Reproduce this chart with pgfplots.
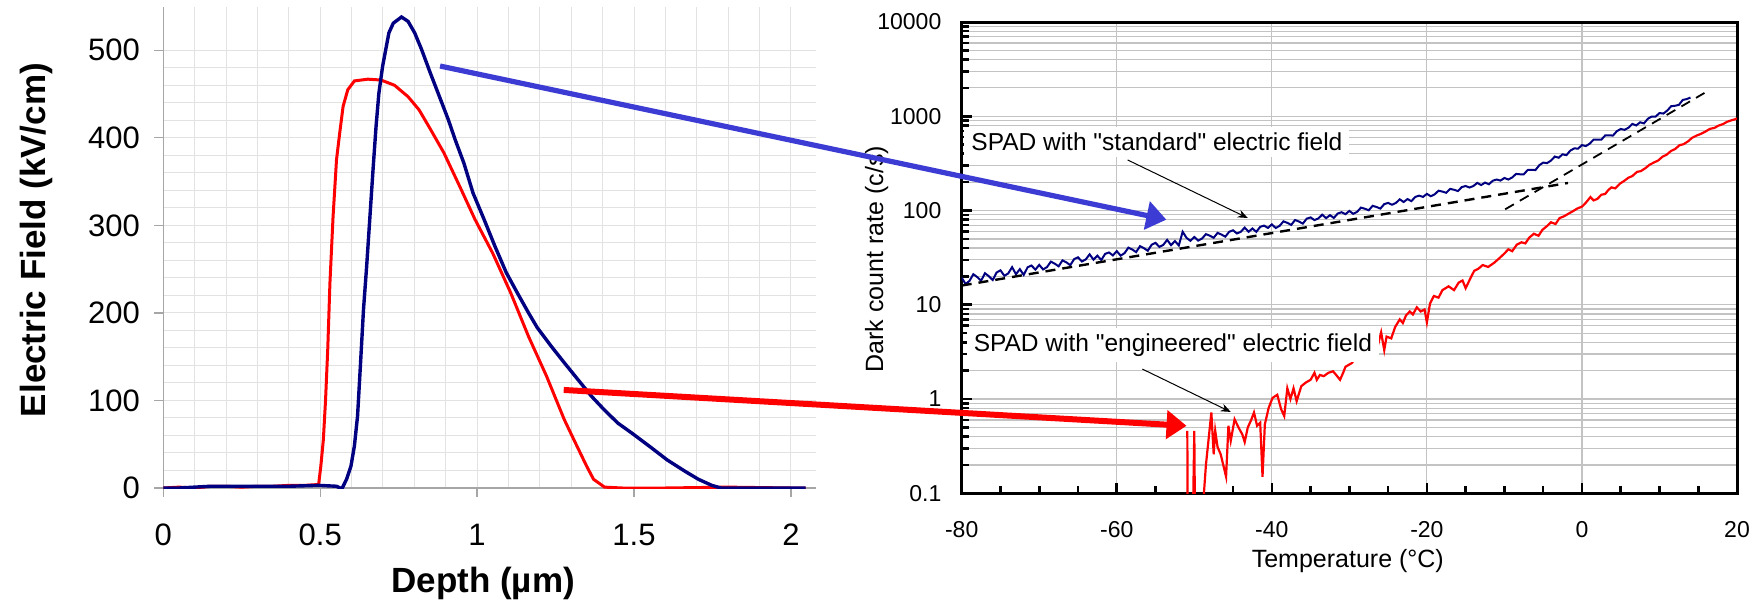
\documentclass[border=0pt]{standalone}
\usepackage{pgfplots}
\pgfplotsset{compat=1.18}
\usepackage{fontspec}
\setmainfont{Liberation Sans}
\newfontfamily\plainfont{Liberation Sans}[Ligatures=TeXOff]
\usetikzlibrary{arrows.meta}
\definecolor{navy}{RGB}{0,0,128}
\definecolor{arrowblue}{RGB}{60,60,212}
\definecolor{lgrid}{RGB}{226,226,226}
\definecolor{rgrid}{RGB}{195,195,195}
\begin{document}
\begin{tikzpicture}
\useasboundingbox (0,0) rectangle (878.5pt,306pt);
% ---------------- left: electric field profile ----------------
\begin{axis}[
  at={(81.65pt,62pt)}, anchor=south west,
  scale only axis, width=326.35pt, height=240.75pt,
  xmin=0, xmax=2.08, ymin=0, ymax=550,
  axis lines*=left,
  axis line style={-, draw=gray!70, line width=0.6pt},
  xtick={0,0.5,1,1.5,2}, xticklabels={0,0.5,1,1.5,2},
  ytick={0,100,200,300,400,500}, yticklabels={0,100,200,300,400,500},
  minor x tick num=4, minor y tick num=4,
  grid=both,
  major grid style={draw=lgrid, line width=0.5pt},
  minor grid style={draw=lgrid, line width=0.5pt},
  tick align=outside, major tick length=4.5pt, minor tick length=0pt,
  every tick/.style={draw=gray!70, line width=0.6pt},
  /pgf/number format/assume math mode=true,
  tick label style={font=\fontsize{15.5}{18}\selectfont},
  xticklabel style={anchor=center, inner sep=0pt, yshift=-19pt},
  yticklabel style={anchor=east, inner sep=0pt, xshift=-7pt},
  xlabel={Depth (µm)}, ylabel={Electric Field (kV/cm)},
  label style={font=\bfseries\fontsize{17.5}{20}\selectfont},
  xlabel style={at={(axis description cs:0.49,0)}, anchor=base, yshift=-52pt},
  ylabel style={at={(axis description cs:-0.1812,0.515)}, anchor=base},
  no markers,
]
\addplot[red, line width=1.5pt] coordinates {
(0,0) (0.05,1) (0.1,0) (0.15,2) (0.2,2) (0.25,1) (0.3,2) (0.35,2) (0.4,3) (0.45,3)
(0.495,4) (0.502,25) (0.510,55) (0.517,100) (0.524,158) (0.531,234) (0.541,310)
(0.552,375) (0.562,405) (0.573,436) (0.588,455) (0.609,465) (0.652,467) (0.694,466)
(0.737,460) (0.780,447) (0.815,432) (0.851,410) (0.894,383) (0.944,345) (0.993,307)
(1.050,268) (1.107,223) (1.164,173) (1.221,128) (1.278,78) (1.314,51) (1.349,25)
(1.371,10) (1.406,1) (1.463,0) (1.6,0) (1.8,1) (2.0,0) (2.047,0)};
\addplot[navy, line width=1.7pt] coordinates {
(0,0) (0.05,0) (0.1,1) (0.15,2) (0.2,2) (0.3,2) (0.4,2) (0.495,3) (0.552,2) (0.569,-1)
(0.584,10) (0.598,25) (0.609,48) (0.619,82) (0.628,139) (0.638,204) (0.648,253)
(0.655,291) (0.662,329) (0.669,367) (0.678,413) (0.687,451) (0.699,482) (0.709,501)
(0.719,520) (0.733,531) (0.759,538) (0.780,533) (0.801,520) (0.823,501) (0.851,474)
(0.879,448) (0.908,421) (0.930,398) (0.958,371) (0.987,337) (1.022,307) (1.057,276)
(1.093,246) (1.128,223) (1.164,200) (1.192,183) (1.236,162) (1.278,143) (1.321,124)
(1.364,105) (1.406,89) (1.449,74) (1.492,63) (1.548,48) (1.606,32) (1.663,19)
(1.705,10) (1.748,3) (1.777,0) (1.9,0) (2.047,0)};
\coordinate (bs) at (axis cs:0.882,482);
\coordinate (rs) at (axis cs:1.276,112);
\end{axis}
% ---------------- right: dark count rate ----------------
\begin{axis}[
  at={(480.85pt,59.35pt)}, anchor=south west,
  scale only axis, width=387.65pt, height=235.65pt,
  xmin=-80, xmax=20, ymode=log, ymin=0.1, ymax=10000,
  xtick={-80,-60,-40,-20,0,20}, xticklabels={-80,-60,-40,-20,0,20},
  minor x tick num=3,
  ytick={0.1,1,10,100,1000,10000}, yticklabels={0.1,1,10,100,1000,10000},
  minor ytick={0.2,0.3,0.4,0.5,0.6,0.7,0.8,0.9,2,3,4,5,6,7,8,9,20,30,40,50,60,70,80,90,200,300,400,500,600,700,800,900,2000,3000,4000,5000,6000,7000,8000,9000},
  xmajorgrids, ymajorgrids, yminorgrids, xminorgrids=false,
  major grid style={draw=rgrid, line width=0.6pt},
  minor grid style={draw=rgrid, line width=0.6pt},
  tick align=inside, xtick pos=left, ytick pos=left,
  major tick length=5pt, minor tick length=3.5pt,
  every tick/.style={black, line width=1.3pt},
  axis line style={black, line width=1.5pt},
  /pgf/number format/assume math mode=true,
  tick label style={font=\fontsize{11.5}{14}\selectfont},
  xticklabel style={anchor=center, inner sep=0pt, yshift=-18.35pt},
  yticklabel style={anchor=east, inner sep=0pt, xshift=-10pt},
  xlabel={Temperature (°C)}, ylabel={Dark count rate (c/s)},
  label style={font=\fontsize{12.5}{15}\selectfont},
  xlabel style={at={(axis description cs:0.498,0)}, anchor=base, yshift=-37.15pt},
  ylabel style={at={(axis description cs:-0.1015,0.497)}, anchor=base},
  no markers,
]
\addplot[navy, line width=1pt] coordinates {
(-80,19.4) (-79.5,16.6) (-79,17.9) (-78.5,21.1) (-78,19.7) (-77.5,18.0) (-77,21.6) (-76.5,20.1) (-76,18.3) (-75.5,22.0)
(-75,23.2) (-74.5,20.3) (-74,21.5) (-73.5,25.1) (-73,21.1) (-72.5,23.9) (-72,20.7) (-71.5,25.0) (-71,26.1) (-70.5,23.6)
(-70,26.5) (-69.5,23.7) (-69,25.1) (-68.5,28.7) (-68,27.3) (-67.5,25.6) (-67,29.6) (-66.5,28.2) (-66,26.3) (-65.5,30.5)
(-65,31.9) (-64.5,28.8) (-64,30.3) (-63.5,34.3) (-63,30.1) (-62.5,33.2) (-62,29.8) (-61.5,34.7) (-61,35.9) (-60.5,33.4)
(-60,37.1) (-59.5,33.2) (-59,35.3) (-58.5,40.4) (-58,38.6) (-57.5,36.2) (-57,41.9) (-56.5,39.9) (-56,37.4) (-55.5,43.4)
(-55,45.4) (-54.5,41.1) (-54,43.2) (-53.5,48.8) (-53,42.9) (-52.5,47.4) (-52,42.6) (-51.5,59.5) (-51,51.3) (-50.5,47.7)
(-50,52.4) (-49.5,48.0) (-49,50.4) (-48.5,56.2) (-48,54.1) (-47.5,51.4) (-47,57.9) (-46.5,55.6) (-46,52.8) (-45.5,59.5)
(-45,61.7) (-44.5,57.1) (-44,59.5) (-43.5,65.9) (-43,59.5) (-42.5,64.5) (-42,59.4) (-41.5,67.1) (-41,69.2) (-40.5,65.4)
(-40,71.3) (-39.5,65.3) (-39,68.7) (-38.5,76.8) (-38,74.0) (-37.5,70.4) (-37,79.4) (-36.5,76.4) (-36,72.6) (-35.5,82.0)
(-35,84.5) (-34.5,79.2) (-34,82.4) (-33.5,90.4) (-33,83.0) (-32.5,89.3) (-32,83.4) (-31.5,93.0) (-31,95.9) (-30.5,91.5)
(-30,99.0) (-29.5,92.2) (-29,96.9) (-28.5,107.4) (-28,104.4) (-27.5,100.6) (-27,112.2) (-26.5,109.0) (-26,104.8) (-25.5,117.0)
(-25,120.5) (-24.5,115.2) (-24,120.3) (-23.5,131.4) (-23,123.2) (-22.5,132.3) (-22,125.8) (-21.5,139.3) (-21,144.0) (-20.5,139.4)
(-20,150.2) (-19.5,141.8) (-19,148.3) (-18.5,162.3) (-18,158.9) (-17.5,154.2) (-17,169.8) (-16.5,166.0) (-16,160.9) (-15.5,177.2)
(-15,182.0) (-14.5,175.4) (-14,182.1) (-13.5,196.4) (-13,186.2) (-12.5,197.9) (-12,190.0) (-11.5,207.1) (-11,213.2) (-10.5,207.8)
(-10,221.5) (-9.5,213.3) (-9,224.1) (-8.5,244.5) (-8,242.4) (-7.5,242.5) (-7,269.1) (-6.5,270) (-6,268.8) (-5.5,302.4)
(-5,322.4) (-4.5,318.5) (-4,338.3) (-3.5,373.8) (-3,363.2) (-2.5,394.8) (-2,386.8) (-1.5,432.5) (-1,455.8) (-0.5,454.1)
(0,494.4) (0.5,482.5) (1,512.2) (1.5,564.3) (2,565.6) (2.5,565.0) (3,626.2) (3.5,627.5) (4,624) (4.5,694.4)
(5,733.2) (5.5,717.9) (6,756.2) (6.5,829.5) (7,799.5) (7.5,862.8) (8,840.4) (8.5,941) (9,994) (9.5,992.4)
(10,1081.5) (10.5,1068.7) (11,1147.5) (11.5,1277.5) (12,1292.8) (12.5,1319.2) (13,1490.4) (13.5,1520) (14,1580)};
\addplot[red, line width=1.1pt] coordinates {
(-50.9,0.46) (-50.85,0.04) (-50.2,0.04) (-50.0,0.46) (-49.9,0.04) (-49.1,0.04) (-48.5,0.2)
(-47.8,0.72) (-47.5,0.26) (-47.3,0.46) (-47.0,0.31) (-46.6,0.26) (-45.9,0.15) (-45.6,0.52)
(-45.3,0.36) (-44.8,0.61) (-44.3,0.5) (-43.8,0.42) (-43.5,0.35) (-43.1,0.5) (-42.7,0.59)
(-42.3,0.72) (-41.9,0.52) (-41.5,0.56) (-41.2,0.15) (-40.9,0.54) (-40.4,0.81) (-39.9,1.03)
(-39.3,1.11) (-38.8,0.78) (-38.4,0.66) (-38.0,1.3) (-37.6,1.0) (-37.2,1.3) (-36.8,0.95)
(-36.2,1.37) (-35.6,1.5) (-35.0,1.6) (-34.5,1.9) (-34.2,1.6) (-33.8,1.8) (-33.3,1.75)
(-32.7,1.9) (-32.1,1.97) (-31.7,1.8) (-31.2,1.6) (-30.8,1.9) (-30.5,2.2) (-30.1,2.3)
(-29.7,2.4) (-29.2,2.7) (-28.6,2.9) (-28.0,3.2) (-27.5,3.4)
(-27.0,3.65) (-26.8,4.4) (-26.4,3.5) (-25.9,5.1) (-25.5,3.3) (-25.2,4.6) (-24.6,4.4)
(-24.1,5.8) (-23.5,7.0) (-23.1,6.4) (-22.7,7.7) (-22.2,8.5) (-21.8,7.9) (-21.3,9.4)
(-20.8,8.5) (-20.3,8.9) (-20.0,6.5) (-19.6,10.3) (-19.1,12.4) (-18.5,11.9) (-18.0,14.3)
(-17.2,15.7) (-16.5,14.3) (-15.9,17.2) (-15.4,18.1) (-15.0,15.0) (-14.4,19.0) (-13.9,22.9)
(-13.4,24.0) (-12.8,26.4) (-12.1,25.2) (-11.3,28.0) (-10.6,31.5) (-10.0,35.0) (-9.5,38.8)
(-9.0,37.0) (-8.4,43.5) (-7.8,46.0) (-7.3,44.8) (-6.8,51.6) (-6.2,56.7) (-5.6,54.0)
(-5.1,62.4) (-4.5,68.5) (-4.0,75) (-3.4,72) (-2.9,83) (-2.3,87) (-1.7,93) (-1.2,98)
(-0.6,105) (0,110) (0.5,121) (1.1,139) (1.5,128) (2.0,133) (2.5,147) (3.0,150) (3.4,165)
(3.8,176) (4.3,172) (4.9,193) (5.4,205) (6.0,223) (6.5,232) (7.1,257) (7.6,262) (8.2,282)
(8.7,305) (9.3,324) (9.8,338) (10.4,373) (10.9,390) (11.5,429) (12.0,448) (12.6,494)
(13.1,505) (13.7,543) (14.2,590) (14.8,625) (15.3,648) (15.9,686) (16.5,735) (17.1,753)
(17.6,795) (18.2,827) (18.7,872) (19.3,908) (19.7,925) (20,950)};
\addplot[black, line width=1.2pt, dash pattern=on 5pt off 3.5pt] coordinates {(-80,16) (-1.8,196)};
\addplot[black, line width=0.9pt, dash pattern=on 5pt off 3.5pt] coordinates {(-9.9,103) (15.8,1767)};
\node[fill=white, anchor=west, inner xsep=3.5pt, inner ysep=3pt, font=\plainfont\fontsize{12.25}{14}\selectfont]
  at (axis cs:-79.7,533) {SPAD with "standard" electric field};
\node[fill=white, anchor=west, inner xsep=3.5pt, inner ysep=3pt, font=\plainfont\fontsize{12.25}{14}\selectfont]
  at (axis cs:-79.4,3.74) {SPAD with "engineered" electric field};
\draw[black, line width=0.5pt, -{Stealth[length=5pt,width=4pt]}] (axis cs:-58.6,344) -- (axis cs:-43.1,83.3);
\draw[black, line width=0.5pt, -{Stealth[length=5pt,width=4pt]}] (axis cs:-56.7,2.08) -- (axis cs:-45.3,0.73);
\coordinate (be) at (axis cs:-53.6,80);
\coordinate (re) at (axis cs:-51.0,0.52);
\end{axis}
\draw[arrowblue, line width=2.6pt, -{Triangle[length=10pt,width=14pt]}] (bs) -- (be);
\draw[red, line width=3pt, -{Triangle[length=10pt,width=14pt]}] (rs) -- (re);
\end{tikzpicture}
\end{document}
